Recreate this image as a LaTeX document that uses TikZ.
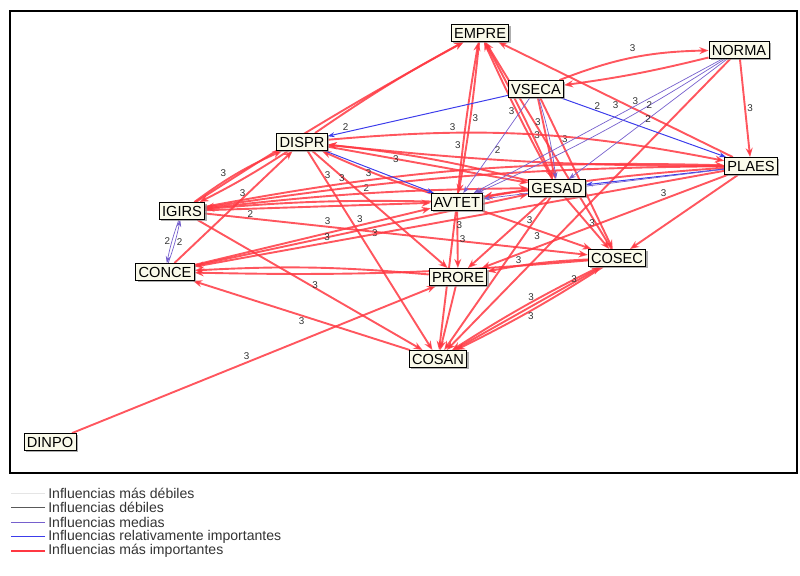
\documentclass[tikz,border=0pt]{standalone}
\usepackage{fontspec}
\setmainfont{Liberation Sans}
\usetikzlibrary{arrows.meta, shadows}

\definecolor{infred}{RGB}{255,56,66}
\definecolor{infblue}{RGB}{60,60,235}
\definecolor{infpurple}{RGB}{118,96,205}
\definecolor{varfill}{RGB}{250,250,234}

\pgfdeclarelayer{edges}
\pgfsetlayers{edges,main}

\begin{document}
\begin{tikzpicture}[
  x=0.025cm, y=-0.025cm,
  var/.style={draw=black, fill=varfill, line width=0.6pt, inner xsep=2pt, inner ysep=2.3pt,
    text height=7.5pt, text depth=0pt, font=\fontsize{10.4}{12}\selectfont,
    drop shadow={shadow xshift=1.3pt, shadow yshift=-1.3pt, fill=black!45, opacity=0.7}},
  strong/.style={draw=infred, draw opacity=0.85, line width=1.35pt,
    -{Stealth[length=6.5pt, width=5pt]}},
  med/.style={draw=infpurple, line width=0.5pt, -{Stealth[length=5pt, width=3.5pt]}},
  rel/.style={draw=infblue, line width=0.7pt, -{Stealth[length=5pt, width=3.5pt]}},
  lbl/.style={font=\fontsize{7}{8}\selectfont, text=black!80, inner sep=1pt},
  leg/.style={anchor=west, inner sep=0pt, font=\fontsize{10}{12}\selectfont, text=black!80}
]
\useasboundingbox (0,0) rectangle (800,576);

% frame round the graph
\draw[line width=0.8pt] (10,11) rectangle (797,473);

% --- the variables ---
\node[var] (EMPRE) at (480,33)  {EMPRE};
\node[var] (NORMA) at (739,50)  {NORMA};
\node[var] (VSECA) at (536,89)  {VSECA};
\node[var] (DISPR) at (302,142) {DISPR};
\node[var] (PLAES) at (751,166) {PLAES};
\node[var] (GESAD) at (557,188) {GESAD};
\node[var] (AVTET) at (457,202) {AVTET};
\node[var] (IGIRS) at (182,211) {IGIRS};
\node[var] (CONCE) at (165,272) {CONCE};
\node[var] (COSEC) at (617,258) {COSEC};
\node[var] (PRORE) at (458,277) {PRORE};
\node[var] (COSAN) at (438,359) {COSAN};
\node[var] (DINPO) at (50,442)  {DINPO};

\begin{pgfonlayer}{edges}
% --- influencias mas importantes ---
\draw[strong] (DISPR) to[bend left=3] (EMPRE);
\draw[strong] (IGIRS) to[bend left=2] (EMPRE);
\draw[strong] (AVTET) to[bend left=2] node[lbl, pos=.3, left] {3} (EMPRE);
\draw[strong] (EMPRE) to[bend left=2] node[lbl, pos=.5, right] {3} (AVTET);
\draw[strong] (GESAD) to[bend left=2] node[lbl, pos=.5, left] {3} (EMPRE);
\draw[strong] (EMPRE) to[bend left=2] (GESAD);
\draw[strong] (COSEC) -- node[lbl, pos=.55, left] {3} (EMPRE);
\draw[strong] (PLAES) -- node[lbl, pos=.5, below] {3} (EMPRE);
\draw[strong] (VSECA) to[bend left=10] node[lbl, pos=.5, above=3pt] {3} (NORMA);
\draw[strong] (NORMA) to[bend left=3] (VSECA);
\draw[strong] (NORMA) -- node[lbl, pos=.5, right] {3} (PLAES);
\draw[strong] (NORMA) -- (COSAN);
\draw[strong] (VSECA) -- node[lbl, pos=.3, left] {3} (GESAD);
\draw[strong] (VSECA) -- node[lbl, pos=.27, right] {3} (COSEC);
\draw[strong] (DISPR) to[bend left=8] node[lbl, pos=.3, above] {3} (PLAES);
\draw[strong] (PLAES) to[bend left=3] (DISPR);
\draw[strong] (DISPR) -- node[lbl, pos=.34] {3} (GESAD);
\draw[strong] (AVTET) to[bend left=3] (DISPR);
\draw[strong] (GESAD) to[bend right=4] (DISPR);
\draw[strong] (DISPR) -- node[lbl, pos=.12, right] {3} (COSAN);
\draw[strong] (DISPR) -- (PRORE);
\draw[strong] (IGIRS) to[bend left=6] node[lbl, pos=.4, above left] {3} (DISPR);
\draw[strong] (DISPR) to[bend left=3] (IGIRS);
\draw[strong] (CONCE) -- node[lbl, pos=.62, left] {3} (DISPR);
\draw[strong] (IGIRS) to[bend left=6] node[lbl, pos=.25, above] {3} (PLAES);
\draw[strong] (IGIRS) to[bend left=3] node[lbl, pos=.5, above] {2} (GESAD);
\draw[strong] (IGIRS) -- node[lbl, pos=.32, above] {3} (COSEC);
\draw[strong] (IGIRS) -- node[lbl, pos=.5, right] {3} (COSAN);
\draw[strong] (IGIRS) -- node[lbl, pos=.2, below] {2} (AVTET);
\draw[strong] (AVTET) to[bend right=3] (IGIRS);
\draw[strong] (CONCE) -- node[lbl, pos=.7, above] {3} (AVTET);
\draw[strong] (CONCE) -- node[lbl, pos=.54, below] {3} (GESAD);
\draw[strong] (PLAES) -- node[lbl, pos=.75, above] {3} (CONCE);
\draw[strong] (COSEC) to[bend left=3] (CONCE);
\draw[strong] (PRORE) to[bend right=4] (CONCE);
\draw[strong] (COSAN) -- node[lbl, pos=.5, below] {3} (CONCE);
\draw[strong] (AVTET) -- node[lbl, pos=.5, below] {3} (COSEC);
\draw[strong] (AVTET) -- node[lbl, pos=.5, right] {3} (PRORE);
\draw[strong] (AVTET) -- node[lbl, pos=.1, right] {3} (COSAN);
\draw[strong] (GESAD) -- node[lbl, pos=.15, left] {3} (COSAN);
\draw[strong] (GESAD) -- node[lbl, pos=.5, right] {3} (COSEC);
\draw[strong] (GESAD) -- (PRORE);
\draw[strong] (GESAD) to[bend right=3] (AVTET);
\draw[strong] (COSEC) to[bend right=4] node[lbl, pos=.7, above] {3} (PRORE);
\draw[strong] (COSEC) to[bend right=3] node[lbl, pos=.45, above] {3} (COSAN);
\draw[strong] (COSEC) to[bend left=3] node[lbl, pos=.5, below] {3} (COSAN);
\draw[strong] (COSAN) -- node[lbl, pos=.85, left] {3} (COSEC);
\draw[strong] (PRORE) -- (COSAN);
\draw[strong] (PLAES) -- node[lbl, pos=.26, above] {3} (PRORE);
\draw[strong] (PLAES) -- (COSEC);
\draw[strong] (PLAES) to[bend right=3] (AVTET);
\draw[strong] (PLAES) to[bend right=4] (IGIRS);
\draw[strong] (DINPO) -- node[lbl, pos=.48, above] {3} (PRORE);

% --- influencias medias / relativamente importantes ---
\draw[med] (IGIRS) to[bend right=4] node[lbl, left] {2} (CONCE);
\draw[med] (CONCE) to[bend right=4] node[lbl, right] {2} (IGIRS);
\draw[rel] (VSECA) -- node[lbl, pos=.9, above] {2} (DISPR);
\draw[rel] (DISPR) -- node[lbl, pos=.4, below] {3} (AVTET);
\draw[med] (VSECA) -- node[lbl, pos=.55, right] {2} (AVTET);
\draw[rel] (VSECA) -- node[lbl, pos=.22, above] {2} (PLAES);
\draw[med] (NORMA) -- node[lbl, pos=.35, above] {3} (AVTET);
\draw[med] (NORMA) -- node[lbl, pos=.5] {2} (GESAD);
\draw[med] (NORMA) to[bend left=4] node[lbl, pos=.3] {2} (AVTET);
\draw[rel] (PLAES) -- (GESAD);
\draw[med] (PLAES) -- (AVTET);
\draw[med] (VSECA) to[bend left=5] (GESAD);
\end{pgfonlayer}

% --- legend ---
\node[leg] (l1) at (48,493) {Influencias más débiles};
\node[leg] (l2) at (48,507.5) {Influencias débiles};
\node[leg] (l3) at (48,522) {Influencias medias};
\node[leg] (l4) at (48,536.5) {Influencias relativamente importantes};
\node[leg] (l5) at (48,551) {Influencias más importantes};
\draw[black!10, line width=0.5pt] ([xshift=-2pt]l1.west) -- ++(-34,0);
\draw[black!65, line width=0.5pt] ([xshift=-2pt]l2.west) -- ++(-34,0);
\draw[infpurple, line width=0.7pt] ([xshift=-2pt]l3.west) -- ++(-34,0);
\draw[infblue, line width=1.3pt] ([xshift=-2pt]l4.west) -- ++(-34,0);
\draw[infred, line width=1.3pt] ([xshift=-2pt]l5.west) -- ++(-34,0);

\end{tikzpicture}
\end{document}
